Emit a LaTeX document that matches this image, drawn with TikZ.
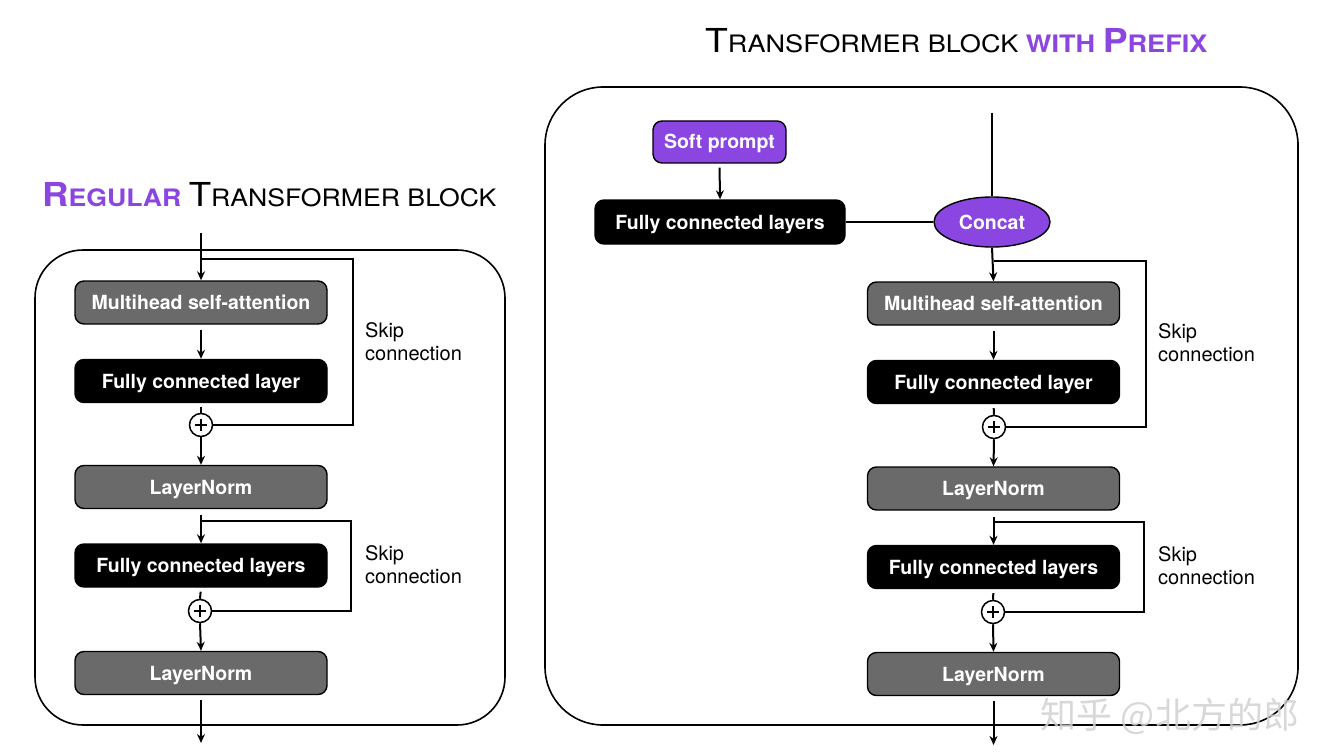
\documentclass[tikz,border=0pt]{standalone}
\usepackage{fontspec}
\usepackage{graphicx}
\setmainfont{TeX Gyre Heros}
\newfontfamily\cjk{Noto Sans CJK SC}
\usetikzlibrary{shapes.geometric,arrows.meta}
\definecolor{boxgray}{HTML}{6A6A6A}
\definecolor{vio}{HTML}{8B45E0}
\newcommand\mysc[2]{{\fontsize{33}{36}\selectfont #1}#2}
\tikzset{
  lw/.style={line width=2pt},
  arr/.style={lw,-{Stealth[length=9pt,width=8pt]}},
  blk/.style={rectangle, rounded corners=9pt, draw=black, line width=1.4pt,
    minimum width=252pt, minimum height=43pt, inner sep=0pt, text=white,
    text height=18pt, text depth=4pt,
    font=\fontsize{19.5}{22}\selectfont\bfseries},
  graybox/.style={blk, fill=boxgray},
  blackbox/.style={blk, fill=black},
  plus/.style={circle, draw=black, line width=1.5pt, fill=white, minimum size=23pt, inner sep=0pt,
    path picture={\draw[line width=1.4pt] ([xshift=-6pt]path picture bounding box.center) -- ([xshift=6pt]path picture bounding box.center);
                  \draw[line width=1.4pt] ([yshift=-6pt]path picture bounding box.center) -- ([yshift=6pt]path picture bounding box.center);}},
  lbl/.style={align=left, anchor=north west, inner sep=0pt, font=\fontsize{20}{23}\selectfont},
  outer/.style={draw=black, line width=1.6pt},
  ttl/.style={anchor=base west, inner sep=0pt, font=\fontsize{24}{28}\selectfont},
}
\begin{document}
\begin{tikzpicture}[x=1pt,y=-1pt]
\useasboundingbox (0,0) rectangle (1324,754);
\fill[white] (0,0) rectangle (1324,754);

% ---------------- Left panel ----------------
\node[ttl] (titleL) at (42,207)
  {\scalebox{1.11}[1]{{\color{vio}\bfseries\mysc{R}{EGULAR}} \mysc{T}{RANSFORMER} BLOCK}};
\draw[outer, rounded corners=48pt] (35,250) rectangle (505,725);

\node[graybox]  (mhsaL) at (201,302.5) {Multihead self-attention};
\node[blackbox] (fclL)  at (201,381)   {Fully connected layer};
\node[plus]     (plusL1) at (201,425) {};
\node[graybox]  (ln1L)  at (201,487)   {LayerNorm};
\node[blackbox] (fcsL)  at (201,565.5) {Fully connected layers};
\node[plus]     (plusL2) at (200,611) {};
\node[graybox]  (ln2L)  at (201,673)   {LayerNorm};

\coordinate (inL) at (201,233);
\coordinate (b1L) at (201,259);
\coordinate (c1L) at (353,425);
\coordinate (b2L) at (201,521);
\coordinate (c2L) at (351,611);
\coordinate (outL) at (201,743);

\draw[arr] (inL) -- (mhsaL.north);
\draw[lw] (b1L) -| (c1L) -- (plusL1.east);
\draw[arr, shorten <=5pt] (mhsaL.south) -- (fclL.north);
\draw[lw, shorten <=4pt] (fclL.south) -- (plusL1.north);
\draw[arr] (plusL1.south) -- (ln1L.north);
\draw[arr, shorten <=6pt] (ln1L.south) -- (fcsL.north);
\draw[lw] (b2L) -| (c2L) -- (plusL2.east);
\draw[lw, shorten <=4pt] (fcsL.south) -- (plusL2.north);
\draw[arr] (plusL2.south) -- (ln2L.north);
\draw[arr, shorten <=5pt] (ln2L.south) -- (outL);

\node[lbl] (skL1) at (365,322) {Skip\\connection};
\node[lbl] (skL2) at (365,545) {Skip\\connection};

% ---------------- Right panel ----------------
\node[ttl] (titleR) at (705,53)
  {\scalebox{1.13}[1]{\mysc{T}{RANSFORMER} BLOCK {\color{vio}\bfseries WITH \mysc{P}{REFIX}}}};
\draw[outer, rounded corners=58pt] (545,87) rectangle (1298,725);

\node[blk, fill=vio, minimum width=133pt, minimum height=42pt] (soft) at (719.5,142) {Soft prompt};
\node[blackbox, minimum width=250pt, minimum height=44pt] (fcpR) at (720,222) {Fully connected layers};
\node[ellipse, draw=black, line width=1.4pt, fill=vio, minimum width=116pt, minimum height=50pt,
      inner sep=0pt, text=white, text height=18pt, text depth=4pt,
      font=\fontsize{19.5}{22}\selectfont\bfseries] (concat) at (992,222) {Concat};

\node[graybox]  (mhsaR) at (993.5,303.5) {Multihead self-attention};
\node[blackbox] (fclR)  at (993.5,382)   {Fully connected layer};
\node[plus]     (plusR1) at (994,427) {};
\node[graybox]  (ln1R)  at (993.5,488.5) {LayerNorm};
\node[blackbox] (fcsR)  at (993.5,567)   {Fully connected layers};
\node[plus]     (plusR2) at (993,612) {};
\node[graybox]  (ln2R)  at (993.5,674)   {LayerNorm};

\coordinate (inR) at (992,113);
\coordinate (b1R) at (993.5,261);
\coordinate (c1R) at (1146,427);
\coordinate (b2R) at (993.5,522);
\coordinate (c2R) at (1144,612);
\coordinate (outR) at (993.5,745);

\draw[arr, shorten <=4pt] (soft.south) -- (fcpR.north);
\draw[lw] (fcpR.east) -- (concat.west);
\draw[lw] (inR) -- (concat.north);
\draw[arr] (concat.south) -- (mhsaR.north);
\draw[lw] (b1R) -| (c1R) -- (plusR1.east);
\draw[arr, shorten <=5pt] (mhsaR.south) -- (fclR.north);
\draw[lw, shorten <=4pt] (fclR.south) -- (plusR1.north);
\draw[arr] (plusR1.south) -- (ln1R.north);
\draw[arr, shorten <=6pt] (ln1R.south) -- (fcsR.north);
\draw[lw] (b2R) -| (c2R) -- (plusR2.east);
\draw[lw, shorten <=4pt] (fcsR.south) -- (plusR2.north);
\draw[arr] (plusR2.south) -- (ln2R.north);
\draw[arr, shorten <=5pt] (ln2R.south) -- (outR);

\node[lbl] (skR1) at (1158,323) {Skip\\connection};
\node[lbl] (skR2) at (1158,546) {Skip\\connection};

% watermark
\node[text=gray!35, opacity=0.85, inner sep=0pt, font=\cjk\fontsize{36}{40}\selectfont] (wm) at (1170,716) {知乎 @北方的郎};
\end{tikzpicture}
\end{document}
